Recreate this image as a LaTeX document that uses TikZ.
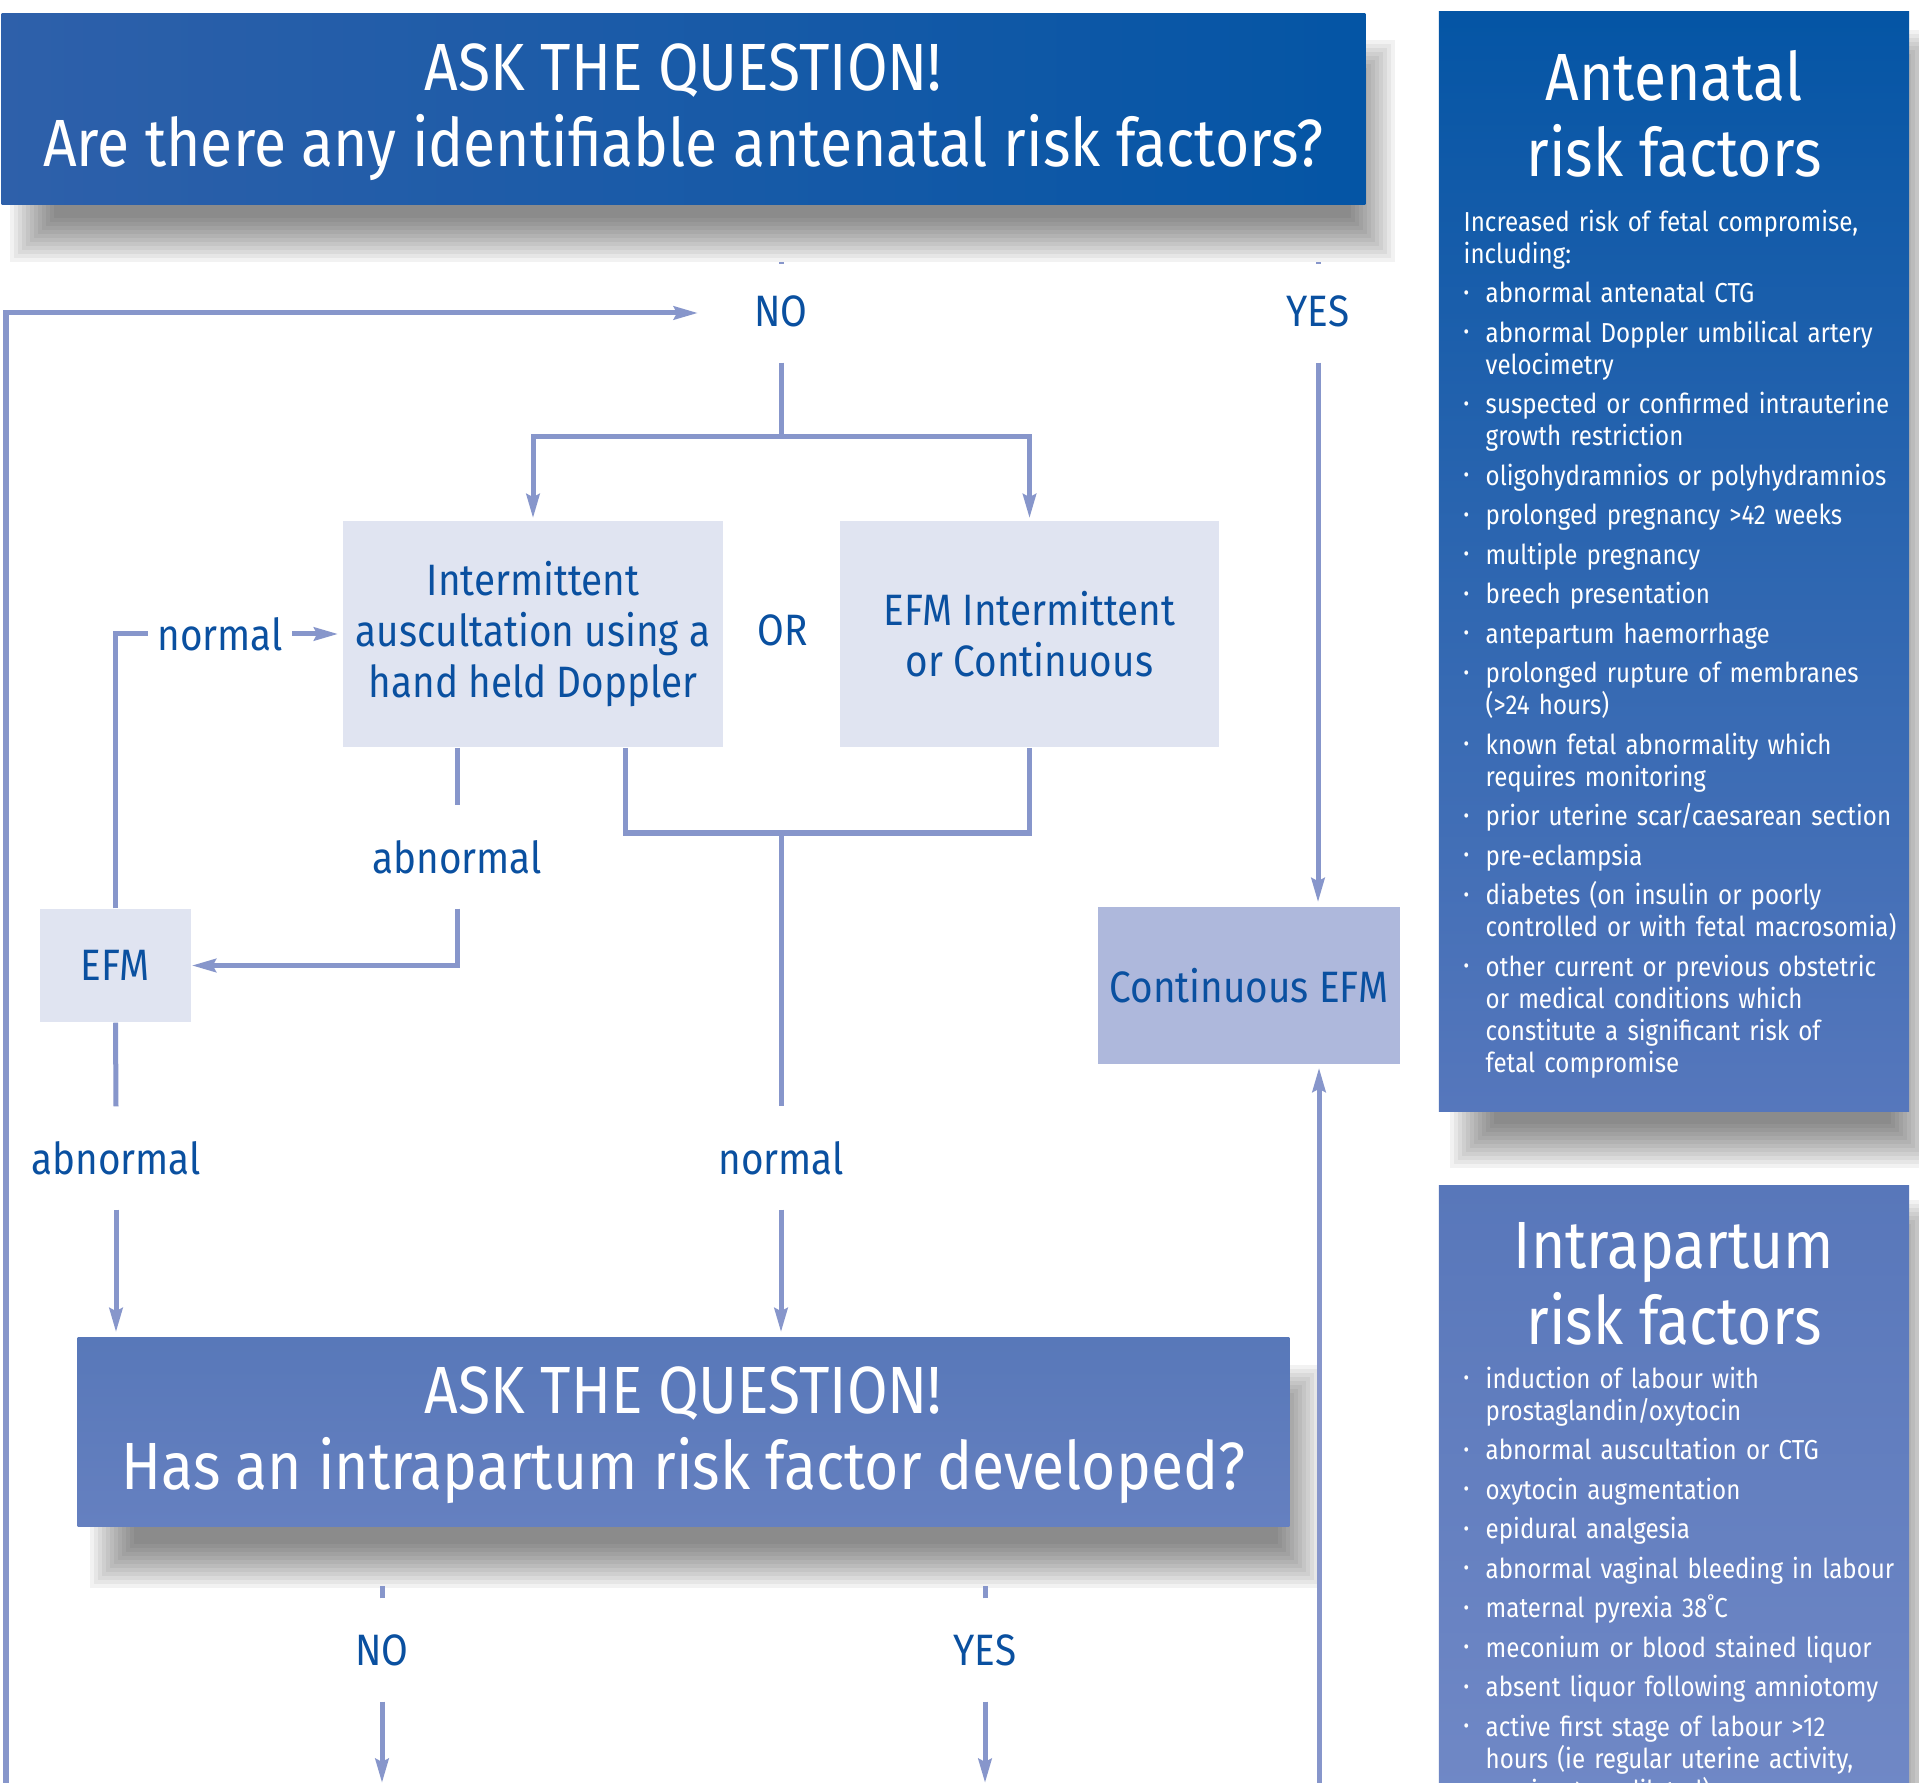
\documentclass[tikz,border=0pt]{standalone}
\usepackage{fontspec}
\usepackage{graphicx}
\setmainfont{Fira Sans}
\newfontfamily\headfont{Fira Sans}[FakeStretch=0.88]
\newfontfamily\flowfont{Fira Sans}[FakeStretch=0.88]
\newfontfamily\sidefont{Fira Sans}[FakeStretch=0.88]
\usepackage{tikz}
\usetikzlibrary{
    positioning,
    arrows.meta
}
\definecolor{flowline}{RGB}{135,150,203}
\definecolor{textblue}{RGB}{10,80,160}
\definecolor{boxlight}{RGB}{224,228,241}
\definecolor{boxmid}{RGB}{174,184,220}
\definecolor{topleft}{RGB}{46,96,170}
\definecolor{topright}{RGB}{4,85,165}
\definecolor{antetop}{RGB}{4,85,165}
\definecolor{antebottom}{RGB}{86,119,188}
\definecolor{intratop}{RGB}{88,119,186}
\definecolor{intrabottom}{RGB}{116,139,200}
\definecolor{qbottop}{RGB}{88,120,185}
\definecolor{qbotbottom}{RGB}{101,128,192}
\definecolor{shadowgrey}{RGB}{40,40,40}
\tikzset{
    >={Stealth[length=0.24cm,width=0.13cm,inset=0.03cm]},
    flow/.style={
        draw=flowline,
        line width=0.05cm
    },
    shadowlayer/.style={
        fill=shadowgrey,
        opacity=0.06
    },
    qbox/.style={
        inner sep=0pt
    },
    question/.style={
        text=white,
        align=center,
        inner sep=0pt,
        font=\headfont\fontsize{19}{21.6}\selectfont
    },
    choice/.style={
        fill=boxlight,
        text=textblue,
        align=center,
        inner sep=0pt,
        font=\flowfont\fontsize{12.5}{14.6}\selectfont
    },
    lbl/.style={
        text=textblue,
        inner xsep=0.09cm,
        inner ysep=0pt,
        minimum height=1.02cm,
        font=\flowfont\fontsize{12.5}{14.6}\selectfont
    },
    sidebox/.style={
        inner sep=0pt
    },
    sidetitle/.style={
        text=white,
        align=center,
        inner sep=0pt,
        font=\sidefont\fontsize{19}{21.6}\selectfont
    },
    sidelist/.style={
        text=white,
        anchor=north west,
        inner sep=0pt,
        text width=4.40cm,
        font=\sidefont\fontsize{7.8}{9.1}\selectfont
    }
}
% sombra difusa: rectangulos superpuestos
\newcommand{\softshadow}[4]{%
    \foreach \k in {0,...,11}
        \fill[shadowlayer] (#1+\k*4,#2+\k*4) rectangle (#3-\k*4,#4-\k*4);}
\newcommand{\riskitem}[1]{\par\hangindent=0.22cm\hangafter=1\noindent
    \makebox[0.22cm][l]{\raisebox{0.12em}{\scalebox{0.7}{\textbullet}}}#1}

\begin{document}
\begin{tikzpicture}[
    x=0.01cm,
    y=-0.01cm
]
    \path[use as bounding box, fill=white] (0,0) rectangle (1919,1783);

    % Sombras
    \softshadow{10}{40}{1395}{262}
    \softshadow{90}{1365}{1322}{1588}
    \softshadow{1450}{30}{1935}{1168}
    \softshadow{1450}{1200}{1935}{1950}

    % Cajas laterales
    \node[sidebox, minimum width=4.70cm, minimum height=10.99cm,
          top color=antetop, bottom color=antebottom] (antbox) at (1674,561.5) {};
    \node[sidebox, minimum width=4.70cm, minimum height=7.14cm,
          top color=intratop, bottom color=intrabottom] (intbox) at (1674,1543) {};

    \node[sidetitle] (antT) at (1674,114) {Antenatal\\risk factors};
    \node[sidetitle] (intT) at (1674,1284) {Intrapartum\\risk factors};

    \node[sidelist] (antL) at (1463,209) {\setlength{\parskip}{0.075cm}%
        \noindent Increased risk of fetal compromise,\newline including:
        \riskitem{abnormal antenatal CTG}
        \riskitem{abnormal Doppler umbilical artery\newline velocimetry}
        \riskitem{suspected or confirmed intrauterine\newline growth restriction}
        \riskitem{oligohydramnios or polyhydramnios}
        \riskitem{prolonged pregnancy >42 weeks}
        \riskitem{multiple pregnancy}
        \riskitem{breech presentation}
        \riskitem{antepartum haemorrhage}
        \riskitem{prolonged rupture of membranes\newline (>24 hours)}
        \riskitem{known fetal abnormality which\newline requires monitoring}
        \riskitem{prior uterine scar/caesarean section}
        \riskitem{pre-eclampsia}
        \riskitem{diabetes (on insulin or poorly\newline controlled or with fetal macrosomia)}
        \riskitem{other current or previous obstetric\newline or medical conditions which\newline
                  constitute a significant risk of\newline fetal compromise}\par};

    \node[sidelist] (intL) at (1463,1348) {\setlength{\parskip}{0.075cm}%
        \riskitem{induction of labour with\newline prostaglandin/oxytocin}
        \riskitem{abnormal auscultation or CTG}
        \riskitem{oxytocin augmentation}
        \riskitem{epidural analgesia}
        \riskitem{abnormal vaginal bleeding in labour}
        \riskitem{maternal pyrexia 38˚C}
        \riskitem{meconium or blood stained liquor}
        \riskitem{absent liquor following amniotomy}
        \riskitem{active first stage of labour >12\newline hours (ie regular uterine activity,\newline
                  cervix >4cm dilated)}\par};

    % Preguntas
    \node[qbox, minimum width=13.63cm, minimum height=1.90cm,
          left color=topleft, right color=topright] (qtop) at (683.5,109) {};
    \node[question] (qtopT) at (683.5,112)
        {ASK THE QUESTION!\\Are there any identifiable antenatal risk factors?};
    \node[qbox, minimum width=12.11cm, minimum height=1.88cm,
          top color=qbottop, bottom color=qbotbottom] (qbot) at (683.5,1432) {};
    \node[question] (qbotT) at (683.5,1435)
        {ASK THE QUESTION!\\Has an intrapartum risk factor developed?};

    % Cajas del diagrama
    \node[choice, minimum width=3.80cm, minimum height=2.26cm] (ia) at (533,634)
        {Intermittent\\auscultation using a\\hand held Doppler};
    \node[choice, minimum width=3.79cm, minimum height=2.26cm] (efmie) at (1029.5,634)
        {EFM Intermittent\\or Continuous};
    \node[choice, minimum width=1.51cm, minimum height=1.13cm] (efm) at (115.5,965.5) {EFM};
    \node[choice, fill=boxmid, minimum width=3.02cm, minimum height=1.57cm] (cefm) at (1249,985.5)
        {Continuous EFM};

    % Etiquetas
    \node[lbl] (noA)  at (781,311)   {NO};
    \node[lbl] (yesA) at (1318,311)  {YES};
    \node[lbl] (orL)  at (783,630)   {OR};
    \node[lbl] (nm1)  at (220,634)   {normal};
    \node[lbl] (ab1)  at (457,857)   {abnormal};
    \node[lbl] (ab2)  at (116,1158)  {abnormal};
    \node[lbl] (nm2)  at (781,1158)  {normal};
    \node[lbl] (noB)  at (382,1650)  {NO};
    \node[lbl] (yesB) at (985,1650)  {YES};

    \coordinate (loopin)  at (698,313);
    \coordinate (loopout) at (6,1800);
    \coordinate (split)   at (781,437);
    \coordinate (join)    at (781,833);
    \coordinate (yesup)   at (1319,1800);
    \coordinate (noBend)  at (382,1783);
    \coordinate (yesBend) at (985,1783);

    % Conexiones
    \draw[flow] ([yshift=-0.03cm]noA.north) -- ++(0,2);
    \draw[flow] ([yshift=-0.03cm]yesA.north) -- ++(0,2);
    \draw[flow, ->] (loopout) |- (loopin);
    \draw[flow] (noA.south) -- (split);
    \draw[flow, ->, shorten >=0.02cm] (split) -| (ia.north);
    \draw[flow, ->, shorten >=0.02cm] (split) -| (efmie.north);
    \draw[flow, ->, shorten >=0.04cm] (yesA.south) -- (yesA.south |- cefm.north);

    \draw[flow] (efm.north) |- (nm1.west);
    \draw[flow, ->, shorten >=0.04cm] (nm1.east) -- (ia.west |- nm1.east);
    \draw[flow] (ia.south -| ab1) -- (ab1.north);
    \draw[flow, ->] (ab1.south) |- (efm.east);
    \draw[flow] ([xshift=0.92cm]ia.south) |- (join) -| (efmie.south);
    \draw[flow] (join) -- (nm2.north);
    \draw[flow, ->, shorten >=0.05cm] (nm2.south) -- (nm2.south |- qbot.north);
    \draw[flow] (efm.south) -- (ab2.north);
    \draw[flow, ->, shorten >=0.05cm] (ab2.south) -- (ab2.south |- qbot.north);
    \draw[flow, ->, shorten >=0.03cm] (yesup) -- (yesup |- cefm.south);

    \draw[flow] (noB.north) -- ++(0,-12);
    \draw[flow] (yesB.north) -- ++(0,-12);
    \draw[flow, ->] (noB.south) -- (noBend);
    \draw[flow, ->] (yesB.south) -- (yesBend);

\end{tikzpicture}
\end{document}
